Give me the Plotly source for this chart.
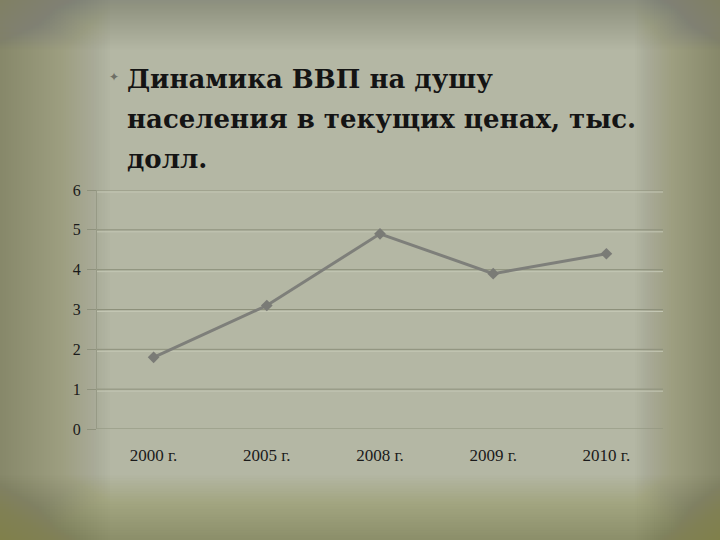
import plotly.graph_objects as go

categories = ["2000 г.", "2005 г.", "2008 г.", "2009 г.", "2010 г."]
values = [1.8, 3.1, 4.9, 3.9, 4.4]
y_ticks = [0, 1, 2, 3, 4, 5, 6]
title_lines = ["Динамика ВВП на душу", "населения в текущих ценах, тыс.", "долл."]

W, H = 720, 540
L, R, T, B = 97, 57, 190, 111
PW, PH = W - L - R, H - T - B


def px(x):
    return (x - L) / PW


def py(y):
    return 1 - (y - T) / PH


shade = "rgba(118,114,68,%.4f)"
shapes = []
n = 40
for i in range(1, n + 1):
    f = i / n
    shapes.append(dict(type="rect", xref="paper", yref="paper", x0=px(0), x1=px(110 * f), y0=py(H), y1=py(0),
                       fillcolor=shade % 0.025, line=dict(width=0), layer="below"))
    shapes.append(dict(type="rect", xref="paper", yref="paper", x0=px(W - 85 * f), x1=px(W), y0=py(H), y1=py(0),
                       fillcolor=shade % 0.024, line=dict(width=0), layer="below"))
    shapes.append(dict(type="rect", xref="paper", yref="paper", x0=px(0), x1=px(W), y0=py(50 * f), y1=py(0),
                       fillcolor=shade % 0.006, line=dict(width=0), layer="below"))
    shapes.append(dict(type="rect", xref="paper", yref="paper", x0=px(0), x1=px(W), y0=py(H), y1=py(H - 65 * f),
                       fillcolor=shade % 0.014, line=dict(width=0), layer="below"))

# double gridlines (dark + light highlight just below)
for v in y_ticks:
    shapes.append(dict(type="line", xref="paper", yref="y", x0=0, x1=1, y0=v, y1=v,
                       line=dict(color="#8d907b", width=1), layer="below"))
    shapes.append(dict(type="line", xref="paper", yref="y", ysizemode="pixel", yanchor=v,
                       x0=0, x1=1, y0=-2, y1=-2,
                       line=dict(color="#c3c6b3", width=1), layer="below"))

fig = go.Figure()
fig.add_trace(go.Scatter(
    x=categories, y=values, mode="lines+markers",
    line=dict(color="#7e7f7a", width=3),
    marker=dict(symbol="diamond", size=9, color="#7a7b76"),
    showlegend=False,
))

annotations = []
for k, line in enumerate(title_lines):
    annotations.append(dict(
        xref="paper", yref="paper", x=px(125), y=py(96 + 40 * k),
        xanchor="left", yanchor="bottom", align="left", showarrow=False,
        text="<b>%s</b>" % line,
        font=dict(family="DejaVu Serif", size=26, color="#141414")))
annotations.append(dict(xref="paper", yref="paper", x=px(114), y=py(77),
                        xanchor="center", yanchor="middle", showarrow=False,
                        text="✦", font=dict(size=12, color="#6e6f66")))

fig.update_layout(
    width=W, height=H,
    margin=dict(l=L, r=R, t=T, b=B, autoexpand=False),
    paper_bgcolor="#b4b7a4",
    plot_bgcolor="rgba(0,0,0,0)",
    shapes=shapes,
    xaxis=dict(
        type="category", range=[-0.5, len(categories) - 0.5],
        showgrid=False, zeroline=False,
        showline=False, ticks="",
        tickfont=dict(family="Liberation Serif", size=17, color="#1a1a1a"),
        ticklabelstandoff=14,
    ),
    yaxis=dict(
        range=[0, 6], tickvals=y_ticks, showgrid=False,
        zeroline=False, showline=True, linecolor="#979a86", linewidth=1,
        ticks="outside", ticklen=9, tickcolor="#8f927d",
        tickfont=dict(family="Liberation Serif", size=16, color="#1a1a1a"),
        ticklabelstandoff=3,
    ),
    annotations=annotations,
)

fig.write_html("out.html", config={"displayModeBar": False},
               post_script="document.body.style.margin='0';")
